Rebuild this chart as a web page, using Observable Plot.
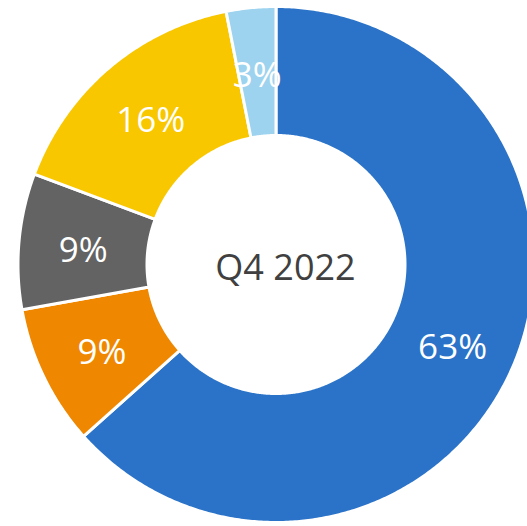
<!DOCTYPE html>
<html>
<head>
<meta charset="utf-8">
<script src="https://cdn.jsdelivr.net/npm/d3@7"></script>
<script src="https://cdn.jsdelivr.net/npm/@observablehq/plot@0.6"></script>
<style>
  html, body { margin: 0; padding: 0; background: #fff; overflow: hidden; }
  #chart { width: 527px; height: 526px; overflow: hidden; }
</style>
</head>
<body>
<div id="chart"></div>
<script>
// Data (clockwise from 12 o'clock)
const categories = ["A", "B", "C", "D", "E"];
const shares = [63.4, 8.8, 8.5, 16.2, 3.1];
const labels = ["63%", "9%", "9%", "16%", "3%"];
const colors = ["#2A73C8", "#EF8800", "#636363", "#F8C700", "#9DD3EE"];
const centerLabel = "Q4 2022";

const R_OUT = 258, R_IN = 129;
const total = d3.sum(shares);

const polys = [];
const labelPts = [];
let acc = 0;
categories.forEach((c, i) => {
  const a0 = acc / total * 2 * Math.PI;
  acc += shares[i];
  const a1 = acc / total * 2 * Math.PI;
  const n = Math.max(4, Math.ceil((a1 - a0) / (Math.PI / 360)));
  const pts = [];
  for (let k = 0; k <= n; k++) {
    const a = a0 + (a1 - a0) * k / n;
    pts.push({cat: c, x: Math.sin(a) * R_OUT, y: Math.cos(a) * R_OUT});
  }
  for (let k = n; k >= 0; k--) {
    const a = a0 + (a1 - a0) * k / n;
    pts.push({cat: c, x: Math.sin(a) * R_IN, y: Math.cos(a) * R_IN});
  }
  pts.push({...pts[0]});
  polys.push(...pts);
  const am = (a0 + a1) / 2, rm = (R_OUT + R_IN) / 2;
  labelPts.push({cat: c, x: Math.sin(am) * rm, y: Math.cos(am) * rm, text: labels[i]});
});

const chart = Plot.plot({
  width: 527,
  height: 526,
  margin: 0,
  x: {domain: [-275.5, 251.5], range: [0, 527], axis: null},
  y: {domain: [264, -262], range: [0, 526], axis: null},
  color: {domain: categories, range: colors},
  style: {fontFamily: "'Open Sans', sans-serif", background: "#fff"},
  marks: [
    Plot.line(polys, {x: "x", y: "y", z: "cat", fill: "cat", stroke: "#fff", strokeWidth: 3, curve: "linear", clip: true}),
    Plot.text(labelPts, {x: "x", y: "y", text: "text", fill: "#fff", fontSize: 35, dy: 4}),
    Plot.text([centerLabel], {x: () => 9.5, y: () => -4, text: d => d, fill: "#404040", fontSize: 36})
  ]
});
document.getElementById("chart").appendChild(chart);
</script>
</body>
</html>
